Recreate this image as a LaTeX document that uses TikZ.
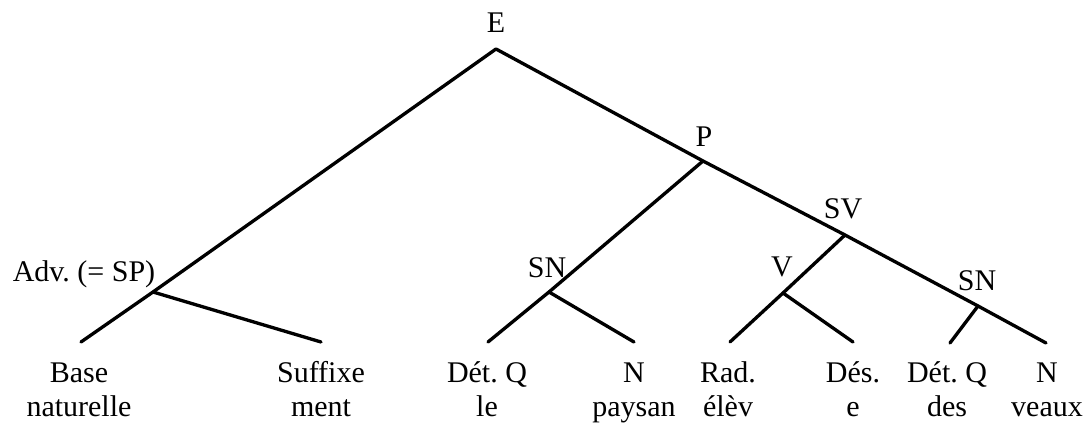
\documentclass[tikz,border=0pt]{standalone}
\usepackage{fontspec}
\setmainfont{Liberation Serif}
\usetikzlibrary{positioning}

\begin{document}
\begin{tikzpicture}[x=0.75pt, y=-0.75pt,
    branch/.style={line width=2.5pt, line cap=round, line join=round},
    cat/.style={font=\fontsize{22.5}{26}\selectfont, inner sep=0pt, anchor=base},
    leaf/.style={font=\fontsize{22.5}{26}\selectfont, inner sep=0pt, anchor=base, align=center}
  ]
  \useasboundingbox (0,0) rectangle (1089,423);

  % --- junctions ---
  \coordinate (e) at (496,49);
  \coordinate (adv) at (153,292);
  \coordinate (p) at (703,161);
  \coordinate (sn1) at (549,292);
  \coordinate (sv) at (845,235);
  \coordinate (v) at (783,293);
  \coordinate (sn2) at (978,306);

  % --- ends of the branches ---
  \coordinate (baseEnd) at (81,342);
  \coordinate (suffEnd) at (321,342);
  \coordinate (detEnd) at (488,342);
  \coordinate (nEnd) at (634,342);
  \coordinate (radEnd) at (730,342);
  \coordinate (desEnd) at (853,342);
  \coordinate (detbEnd) at (950,343);
  \coordinate (nbEnd) at (1046,343);

  % --- branches ---
  \draw[branch] (baseEnd) -- (adv) -- (e) -- (p) -- (sv) -- (sn2) -- (nbEnd);
  \draw[branch] (adv) -- (suffEnd);
  \draw[branch] (p) -- (sn1) -- (detEnd);
  \draw[branch] (sn1) -- (nEnd);
  \draw[branch] (sv) -- (v) -- (radEnd);
  \draw[branch] (v) -- (desEnd);
  \draw[branch] (sn2) -- (detbEnd);

  % --- category labels ---
  \node[cat] (lblE) at (496,33) {E};
  \node[cat] (lblP) at (704,147) {P};
  \node[cat] (lblSV) at (843,219) {SV};
  \node[cat] (lblV) at (782,277) {V};
  \node[cat] (lblSNb) at (977,291) {SN};
  \node[cat] (lblSN) at (547,278) {SN};
  \node[cat] (lblAdv) at (84,282) {Adv.\ (= SP)};

  % --- leaves (base = last line) ---
  \node[leaf] (tBase) at (79,417) {Base\\naturelle};
  \node[leaf] (tSuff) at (321,417) {Suffixe\\ment};
  \node[leaf] (tDet) at (487,417) {Dét.\ Q\\le};
  \node[leaf] (tN) at (634,417) {N\\paysan};
  \node[leaf] (tRad) at (728,417) {Rad.\\élèv};
  \node[leaf] (tDes) at (853,417) {Dés.\\e};
  \node[leaf] (tDetb) at (947,417) {Dét.\ Q\\des};
  \node[leaf] (tNb) at (1047,417) {N\\veaux};
\end{tikzpicture}
\end{document}
